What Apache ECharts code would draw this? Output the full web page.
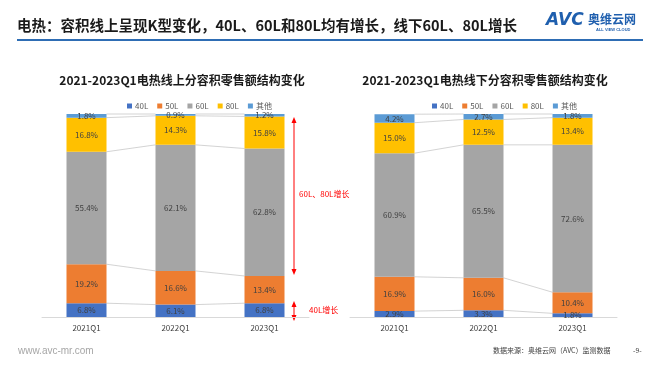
<!DOCTYPE html>
<html><head><meta charset="utf-8">
<script src="https://cdn.jsdelivr.net/npm/echarts@6/dist/echarts.min.js"></script>
<style>html,body{margin:0;padding:0;background:#fff}#c{width:660px;height:372px}</style>
</head><body><div id="c"></div>
<script>
const categories = ['2021Q1', '2022Q1', '2023Q1'];
const seriesNames = ['40L', '50L', '60L', '80L', '其他'];
// online (left chart)
const online40 = [6.8, 6.1, 6.8];
const online50 = [19.2, 16.6, 13.4];
const online60 = [55.4, 62.1, 62.8];
const online80 = [16.8, 14.3, 15.8];
const onlineOther = [1.8, 0.9, 1.2];
// offline (right chart)
const offline40 = [2.9, 3.3, 1.8];
const offline50 = [16.9, 16.0, 10.4];
const offline60 = [60.9, 65.5, 72.6];
const offline80 = [15.0, 12.5, 13.4];
const offlineOther = [4.2, 2.7, 1.8];

const colors = ['#4472c4', '#ed7d31', '#a5a5a5', '#ffc000', '#5b9bd5'];
const FONT = '"Noto Sans CJK SC","Microsoft YaHei",sans-serif';
const BW = 40;

const chart = echarts.init(document.getElementById('c'), null, {renderer: 'canvas'});

function barSeries(groups, gi) {
  return groups.map((vals, k) => ({
    name: seriesNames[k], type: 'bar', stack: 's' + gi,
    xAxisIndex: gi, yAxisIndex: gi, barWidth: BW,
    itemStyle: {color: colors[k]},
    label: {show: true, position: 'inside', formatter: p => p.value.toFixed(1) + '%',
      color: '#404040', fontSize: 8, fontFamily: FONT},
    data: vals
  }));
}
function seriesLines(groups, gi) {
  return {
    type: 'custom', xAxisIndex: gi, yAxisIndex: gi, silent: true, z: 1,
    data: [[0], [1]],
    renderItem: function (params, api) {
      const i = api.value(0);
      const children = [];
      let ca = 0, cb = 0;
      for (let k = 0; k < groups.length; k++) {
        ca += groups[k][i]; cb += groups[k][i + 1];
        const a = api.coord([i, ca]);
        const b = api.coord([i + 1, cb]);
        children.push({type: 'line', shape: {x1: a[0] + BW / 2, y1: a[1], x2: b[0] - BW / 2, y2: b[1]},
          style: {stroke: '#c8c8c8', lineWidth: 0.8}});
      }
      return {type: 'group', children: children};
    }
  };
}
const onlineGroups = [online40, online50, online60, online80, onlineOther];
const offlineGroups = [offline40, offline50, offline60, offline80, offlineOther];

const axisX = gi => ({type: 'category', gridIndex: gi, data: categories,
  axisLine: {lineStyle: {color: '#d9d9d9'}}, axisTick: {show: false},
  axisLabel: {color: '#404040', fontSize: 8, fontFamily: FONT, margin: 7}});
const axisY = gi => ({type: 'value', gridIndex: gi, min: 0, max: 100, show: false, splitLine: {show: false}});

const legendStyle = {itemWidth: 5, itemHeight: 5, itemGap: 9, icon: 'rect',
  textStyle: {color: '#595959', fontSize: 8, fontFamily: FONT, padding: [0, 0, 0, -2]}, data: seriesNames};

chart.setOption({
  animation: false,
  title: [
    {text: '2021-2023Q1电热线上分容积零售额结构变化', left: 177, top: 69, textAlign: 'center',
      textStyle: {fontSize: 12, fontWeight: 'bold', color: '#1a1a1a', fontFamily: FONT}},
    {text: '2021-2023Q1电热线下分容积零售额结构变化', left: 480, top: 69, textAlign: 'center',
      textStyle: {fontSize: 12, fontWeight: 'bold', color: '#1a1a1a', fontFamily: FONT}}
  ],
  legend: [
    Object.assign({left: 122, top: 97}, legendStyle),
    Object.assign({left: 427, top: 97}, legendStyle)
  ],
  grid: [
    {left: 42, right: 351, top: 114, bottom: 55},
    {left: 350, right: 43, top: 114, bottom: 55}
  ],
  xAxis: [axisX(0), axisX(1)],
  yAxis: [axisY(0), axisY(1)],
  series: [].concat(barSeries(onlineGroups, 0), barSeries(offlineGroups, 1),
    [seriesLines(onlineGroups, 0), seriesLines(offlineGroups, 1)]),
  graphic: [
    {type: 'text', left: 17, top: 18, style: {text: '电热：容积线上呈现K型变化，40L、60L和80L均有增长，线下60L、80L增长',
      font: 'bold 14.5px ' + FONT, fill: '#1a1a1a'}},
    {type: 'rect', shape: {x: 17, y: 39, width: 626, height: 2}, style: {fill: '#2e6db4'}},
    {type: 'text', left: 546, top: 12, style: {text: 'AVC', font: 'italic bold 17px "DejaVu Sans",sans-serif', fill: '#1f5fae'}},
    {type: 'text', left: 588, top: 13, style: {text: '奥维云网', font: 'bold 12px ' + FONT, fill: '#1f5fae'}},
    {type: 'text', left: 596, top: 28, style: {text: 'ALL VIEW CLOUD', font: 'bold 4px sans-serif', fill: '#1f5fae'}},
    // red annotations
    {type: 'line', shape: {x1: 294, y1: 121, x2: 294, y2: 271}, style: {stroke: '#ff0000', lineWidth: 1}},
    {type: 'polygon', shape: {points: [[294, 117], [291.5, 123], [296.5, 123]]}, style: {fill: '#ff0000'}},
    {type: 'polygon', shape: {points: [[294, 275], [291.5, 269], [296.5, 269]]}, style: {fill: '#ff0000'}},
    {type: 'text', left: 299, top: 190, style: {text: '60L、80L增长', font: '8px ' + FONT, fill: '#ff0000'}},
    {type: 'line', shape: {x1: 294, y1: 305, x2: 294, y2: 317}, style: {stroke: '#ff0000', lineWidth: 1}},
    {type: 'polygon', shape: {points: [[294, 301], [291.5, 307], [296.5, 307]]}, style: {fill: '#ff0000'}},
    {type: 'polygon', shape: {points: [[294, 321], [291.5, 315], [296.5, 315]]}, style: {fill: '#ff0000'}},
    {type: 'text', left: 309, top: 306, style: {text: '40L增长', font: '8px ' + FONT, fill: '#ff0000'}},
    // footer
    {type: 'text', left: 18, top: 346, style: {text: 'www.avc-mr.com', font: '10px "Liberation Sans",sans-serif', fill: '#a6a6a6'}},
    {type: 'text', left: 493, top: 347, style: {text: '数据来源：奥维云网（AVC）监测数据', font: '7px ' + FONT, fill: '#404040'}},
    {type: 'text', left: 633, top: 347, style: {text: '-9-', font: '7px ' + FONT, fill: '#404040'}}
  ]
});
</script></body></html>
